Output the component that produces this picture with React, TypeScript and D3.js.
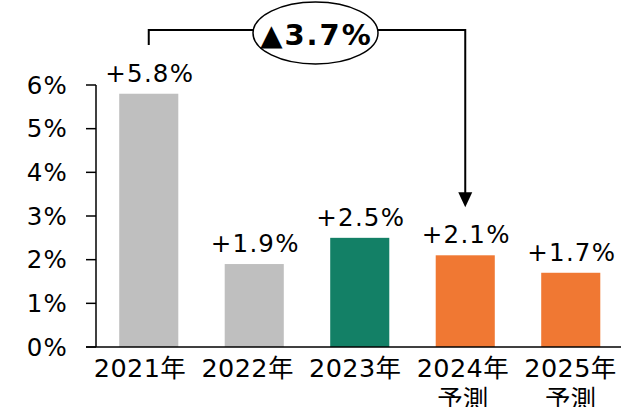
import React from "react";
import * as d3 from "d3";

const years = ["2021年", "2022年", "2023年", "2024年", "2025年"];
const subLabels = ["", "", "", "予測", "予測"];
const growth = [5.8, 1.9, 2.5, 2.1, 1.7];
const barColors = ["#BFBFBF", "#BFBFBF", "#138066", "#F07833", "#F07833"];
const yTicks = [0, 1, 2, 3, 4, 5, 6];
const bracketFrom = 0;
const bracketTo = 3;
const bracketLabel = "▲3.7%";

const W = 621;
const H = 407;
const FONT = "'DejaVu Sans', 'Noto Sans CJK JP', sans-serif";

export default function App() {
  const x = d3.scaleBand<string>().domain(years).range([96, 623.5]).paddingInner(0.44).paddingOuter(0.22);
  // category labels sit on their own evenly spaced track below the axis
  const xl = d3.scalePoint<string>().domain(years).range([140, 570.5]);
  const y = d3.scaleLinear().domain([0, 6]).range([347, 85]);
  const cx = (i: number) => (x(years[i]) as number) + x.bandwidth() / 2;

  const bx0 = cx(bracketFrom);
  const bx1 = cx(bracketTo);
  const bTop = 30;
  const ex = 315.5;
  const ey = 33;
  const tipY = y(growth[bracketTo]) - 48;

  return (
    <svg width={W} height={H} style={{ position: "absolute", left: 0, top: 0, display: "block" }} fontFamily={FONT}>
      <rect width={W} height={H} fill="#fff" />
      {growth.map((v, i) => (
        <rect key={years[i]} x={x(years[i])} y={y(v)} width={x.bandwidth()} height={y(0) - y(v)} fill={barColors[i]} />
      ))}
      {/* axes */}
      <line x1={96} x2={96} y1={y(6)} y2={y(0)} stroke="#000" strokeWidth={1.5} />
      <line x1={86} x2={621} y1={y(0)} y2={y(0)} stroke="#000" strokeWidth={1.5} />
      {yTicks.map((t) => (
        <g key={t}>
          <line x1={86} x2={96} y1={y(t)} y2={y(t)} stroke="#000" strokeWidth={1.5} />
          <text x={68} y={y(t)} dy="0.36em" textAnchor="end" fontSize={24.5} letterSpacing={1.2} fill="#000">
            {t}%
          </text>
        </g>
      ))}
      {growth.map((v, i) => (
        <text key={"v" + i} x={cx(i) + 1} y={y(v) - 12} textAnchor="middle" fontSize={24.5} letterSpacing={1.2} fill="#000">
          {"+" + v.toFixed(1) + "%"}
        </text>
      ))}
      {years.map((yr, i) => (
        <g key={"x" + i}>
          <text x={xl(yr)} y={377} textAnchor="middle" fontSize={25.5} letterSpacing={0.4} fill="#000">
            {yr}
          </text>
          {subLabels[i] && (
            <text x={xl(yr)} y={408} textAnchor="middle" fontSize={25.5} fill="#000">
              {subLabels[i]}
            </text>
          )}
        </g>
      ))}
      {/* growth bracket */}
      <path d={`M${bx0},45 V${bTop} H${bx1} V${tipY - 12}`} fill="none" stroke="#000" strokeWidth={2} />
      <path d={`M${bx1 - 7},${tipY - 15} L${bx1 + 7},${tipY - 15} L${bx1},${tipY} Z`} fill="#000" />
      <ellipse cx={ex} cy={ey} rx={62.5} ry={31} fill="#fff" stroke="#000" strokeWidth={1.5} />
      <text x={ex + 1} y={45} textAnchor="middle" fontSize={29} fontWeight="bold" letterSpacing={2} fill="#000">
        {bracketLabel}
      </text>
    </svg>
  );
}
